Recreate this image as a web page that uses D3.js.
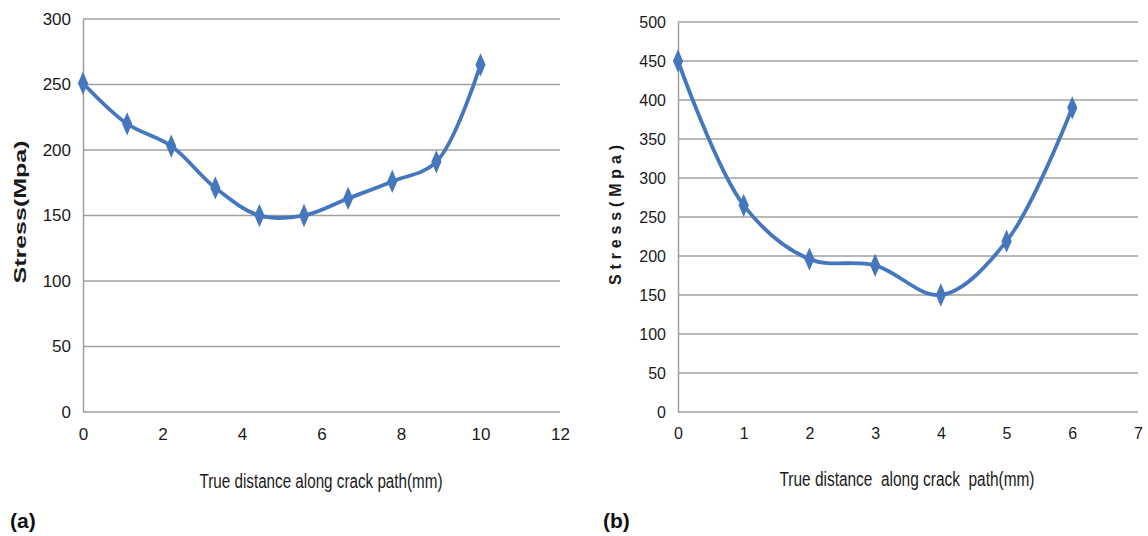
<!DOCTYPE html>
<html>
<head>
<meta charset="utf-8">
<script src="https://cdn.jsdelivr.net/npm/d3@7"></script>
<style>
  html, body { margin: 0; padding: 0; background: #fff; }
  svg { display: block; }
  .tick text { font-family: "Liberation Sans Narrow", "Arial Narrow", "Liberation Sans", sans-serif; fill: #1a1a1a; }
</style>
</head>
<body>
<svg id="chart" width="1148" height="536"></svg>
<script>
// ---- Data: panel (a)
const distA = [0, 1.11, 2.22, 3.33, 4.44, 5.56, 6.67, 7.78, 8.89, 10];
const stressA = [251, 220, 203, 171, 150, 150, 163, 176, 191, 265];
const xTicksA = [0, 2, 4, 6, 8, 10, 12];
const yTicksA = [0, 50, 100, 150, 200, 250, 300];

// ---- Data: panel (b)
const distB = [0, 1, 2, 3, 4, 5, 6];
const stressB = [450, 265, 196, 188, 150, 219, 390];
const xTicksB = [0, 1, 2, 3, 4, 5, 6, 7];
const yTicksB = [0, 50, 100, 150, 200, 250, 300, 350, 400, 450, 500];

const xTitleA = "True distance along crack path(mm)";
const xTitleB = "True distance  along crack  path(mm)";
const yTitle = "Stress(Mpa)";

const svg = d3.select("#chart");
const lineColor = "#4677be";
const gridColor = "#a0a0a0";

function panel(opts) {
  const g = svg.append("g");
  const x = d3.scaleLinear().domain(opts.xDomain).range([opts.left, opts.right]);
  const y = d3.scaleLinear().domain(opts.yDomain).range([opts.bottom, opts.top]);

  // gridlines
  g.append("g").selectAll("line").data(opts.yTicks).join("line")
    .attr("x1", opts.left).attr("x2", opts.right)
    .attr("y1", d => y(d)).attr("y2", d => y(d))
    .attr("stroke", gridColor).attr("stroke-width", 1.5);

  // y axis
  const ya = g.append("g").attr("transform", `translate(${opts.left},0)`)
    .call(d3.axisLeft(y).tickValues(opts.yTicks).tickFormat(d3.format("d")).tickSize(0).tickPadding(opts.yPad));
  ya.select(".domain").attr("stroke", gridColor).attr("stroke-width", 1.5);
  ya.selectAll(".tick text").attr("font-size", opts.tickFont);

  // x axis
  const xa = g.append("g").attr("transform", `translate(0,${opts.bottom})`)
    .call(d3.axisBottom(x).tickValues(opts.xTicks).tickFormat(d3.format("d")).tickSize(0).tickPadding(opts.xPad));
  xa.select(".domain").remove();
  xa.selectAll(".tick text").attr("font-size", opts.tickFont);

  // line
  const pts = opts.xs.map((d, i) => [d, opts.ys[i]]);
  g.append("path")
    .datum(pts)
    .attr("fill", "none")
    .attr("stroke", lineColor)
    .attr("stroke-width", 3.8)
    .attr("stroke-linejoin", "round")
    .attr("d", d3.line().x(d => x(d[0])).y(d => y(d[1])).curve(d3.curveCatmullRom.alpha(0.5)));

  // markers (diamonds)
  g.append("g").selectAll("path").data(pts).join("path")
    .attr("transform", d => `translate(${x(d[0])},${y(d[1])}) scale(0.95,1.25)`)
    .attr("d", d3.symbol().type(d3.symbolDiamond).size(100))
    .attr("fill", lineColor);

  // x title
  g.append("text")
    .attr("x", opts.xTitleX).attr("y", opts.xTitleY)
    .attr("text-anchor", "middle")
    .attr("font-family", "'Liberation Sans Narrow', 'Arial Narrow', 'Liberation Sans', sans-serif")
    .attr("font-size", 20)
    .attr("textLength", opts.xTitleLen)
    .attr("lengthAdjust", "spacingAndGlyphs")
    .style("white-space", "pre")
    .attr("fill", "#1a1a1a")
    .text(opts.xTitle);

  // y title
  g.append("text")
    .attr("transform", `translate(${opts.yTitleX},${opts.yTitleY}) rotate(-90)`)
    .attr("text-anchor", "middle")
    .attr("font-family", "'Liberation Sans', Arial, sans-serif")
    .attr("font-weight", "bold")
    .attr("font-size", opts.yTitleFont)
    .attr("textLength", opts.yTitleLen)
    .attr("lengthAdjust", opts.yTitleAdjust)
    .attr("fill", "#1a1a1a")
    .text(yTitle);

  // panel label
  g.append("text")
    .attr("x", opts.labelX).attr("y", 528)
    .attr("font-family", "'Liberation Sans', Arial, sans-serif")
    .attr("font-weight", "bold")
    .attr("font-size", 21)
    .attr("fill", "#111")
    .text(opts.label);
}

panel({
  xs: distA, ys: stressA, xTicks: xTicksA, yTicks: yTicksA,
  xDomain: [0, 12], yDomain: [0, 300],
  left: 83, right: 560, top: 19, bottom: 412,
  tickFont: 17, yPad: 12, xPad: 16,
  xTitle: xTitleA, xTitleX: 321, xTitleY: 488, xTitleLen: 243,
  yTitleX: 26, yTitleY: 212, yTitleFont: 17, yTitleLen: 143, yTitleAdjust: "spacingAndGlyphs",
  label: "(a)", labelX: 10
});

panel({
  xs: distB, ys: stressB, xTicks: xTicksB, yTicks: yTicksB,
  xDomain: [0, 7], yDomain: [0, 500],
  left: 678, right: 1138, top: 22, bottom: 412,
  tickFont: 16, yPad: 12, xPad: 16,
  xTitle: xTitleB, xTitleX: 907, xTitleY: 486, xTitleLen: 255,
  yTitleX: 621, yTitleY: 215, yTitleFont: 16, yTitleLen: 140, yTitleAdjust: "spacing",
  label: "(b)", labelX: 603
});
</script>
</body>
</html>
